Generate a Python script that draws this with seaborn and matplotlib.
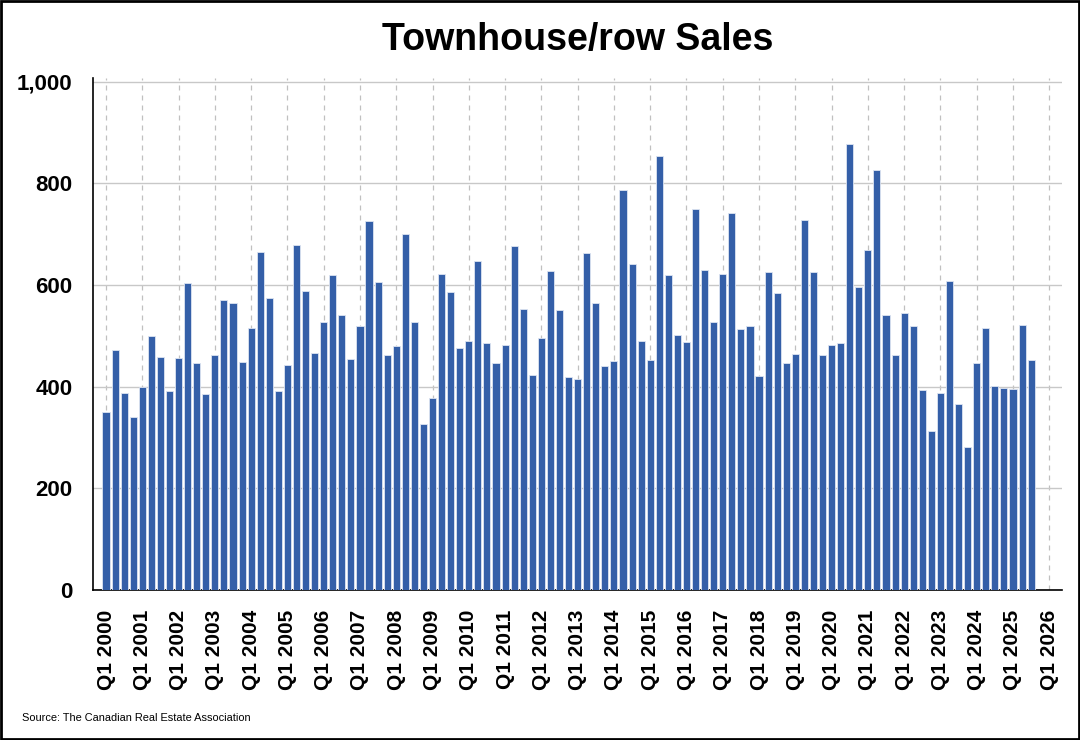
import matplotlib
matplotlib.use('Agg')
import matplotlib.pyplot as plt
import matplotlib.ticker as mticker
from matplotlib.patches import Rectangle
import numpy as np
import pandas as pd
import seaborn as sns

# ── Data: quarterly townhouse/row sales, Q1 2000 – Q3 2025 ────────────────
years = list(range(2000, 2026))
sales = [
    351, 473, 387, 341,   # 2000
    400, 500, 458, 391,   # 2001
    456, 603, 446, 385,   # 2002
    462, 570, 564, 448,   # 2003
    515, 665, 574, 391,   # 2004
    442, 679, 589, 467,   # 2005
    527, 619, 541, 454,   # 2006
    520, 725, 605, 462,   # 2007
    479, 701, 527, 326,   # 2008
    377, 621, 587, 476,   # 2009
    489, 647, 485, 446,   # 2010
    481, 676, 552, 422,   # 2011
    496, 627, 551, 418,   # 2012
    415, 663, 564, 440,   # 2013
    451, 787, 641, 490,   # 2014
    452, 854, 620, 501,   # 2015
    487, 750, 629, 528,   # 2016
    621, 741, 513, 519,   # 2017
    421, 625, 585, 446,   # 2018
    464, 727, 625, 462,   # 2019
    481, 486, 878, 596,   # 2020
    668, 827, 540, 462,   # 2021
    545, 520, 393, 312,   # 2022
    387, 608, 366, 281,   # 2023
    446, 515, 401, 397,   # 2024
    395, 522, 452,        # 2025
]
quarters = [f'Q{q} {y}' for y in years for q in range(1, 5)][:len(sales)]
tick_labels = [f'Q1 {y}' for y in range(2000, 2027)]

BAR_BLUE = '#345FA8'

df = pd.DataFrame({'quarter': quarters, 'sales': sales})

sns.set_style('white')
plt.rcParams['font.family'] = ['Liberation Sans', 'DejaVu Sans']
plt.rcParams['text.color'] = 'black'
plt.rcParams['xtick.color'] = 'black'
plt.rcParams['ytick.color'] = 'black'

fig = plt.figure(figsize=(10.8, 7.4), dpi=100)
ax = fig.add_axes([0.0864, 0.2027, 0.8969, 0.6919])

sns.barplot(data=df, x='quarter', y='sales', color=BAR_BLUE, saturation=1,
            width=0.78, edgecolor='#dde4f2', linewidth=0.6, ax=ax, zorder=3)

# gridlines
ax.set_ylim(0, 1007)
ax.set_yticks(range(0, 1001, 200))
ax.yaxis.set_major_formatter(mticker.FuncFormatter(lambda v, p: f'{int(v):,}'))
ax.grid(axis='y', color='#c8c8c8', linewidth=1.0, zorder=0)

xt = list(range(0, 4 * len(tick_labels), 4))
ax.set_xticks(xt)
ax.set_xticklabels(tick_labels, rotation=90, fontsize=15, fontweight='bold', color='black')
for x in xt:
    ax.axvline(x, color='#c0c0c0', linewidth=0.9, linestyle=(0, (4, 4)), zorder=0)
ax.set_xlim(-1.4, 105.4)

ax.tick_params(axis='y', labelsize=16, length=11, width=1.2, color='#555555',
               labelcolor='black', pad=4)
ax.tick_params(axis='x', length=10, width=1.2, color='#555555',
               labelcolor='black', pad=4)
for lab in ax.get_yticklabels():
    lab.set_fontweight('bold')

ax.set_xlabel('')
ax.set_ylabel('')
sns.despine(ax=ax)
ax.spines['left'].set_color('black')
ax.spines['bottom'].set_color('black')
ax.spines['left'].set_linewidth(1.2)
ax.spines['bottom'].set_linewidth(1.2)

fig.text(0.535, 0.946, 'Townhouse/row Sales', ha='center', va='center',
         fontsize=27, fontweight='bold', color='black')
fig.text(0.020, 0.030, 'Source: The Canadian Real Estate Association',
         ha='left', va='center', fontsize=7.9, color='black')

# figure border
fig.patches.append(Rectangle((0.001, 0.001), 0.998, 0.998, transform=fig.transFigure,
                             fill=False, edgecolor='black', linewidth=2))

fig.savefig('out.png', dpi=100)
